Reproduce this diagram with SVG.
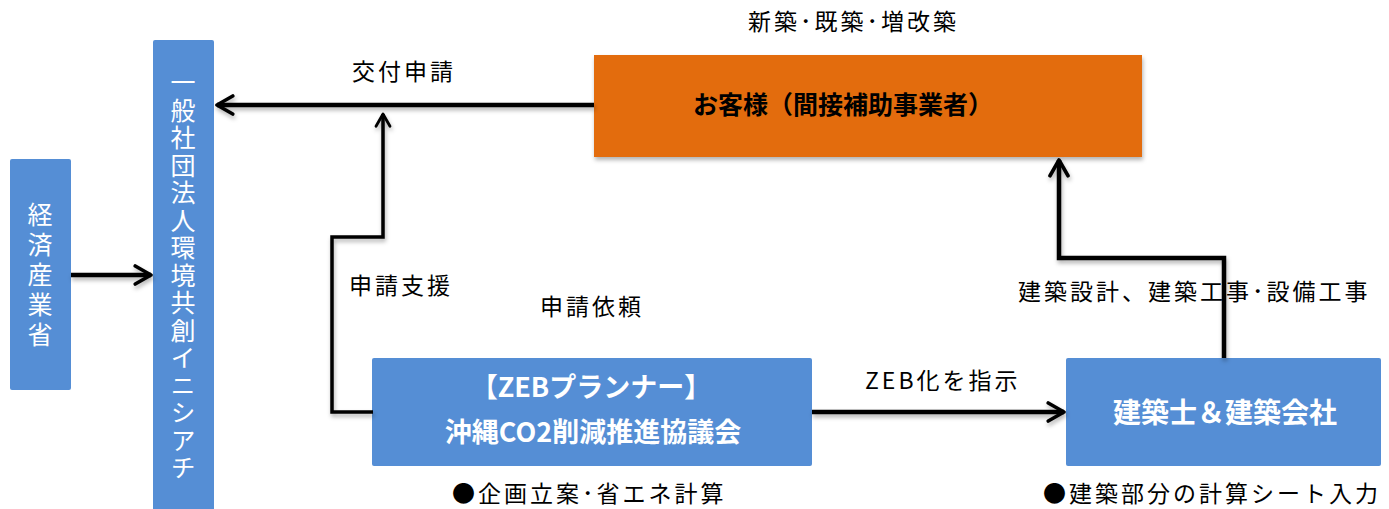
<svg xmlns="http://www.w3.org/2000/svg" width="1389" height="509" viewBox="0 0 1389 509">
<style>
.box{fill:#558ED5;}
.org{fill:#E36C09;}
.lbl{font-family:"Noto Sans CJK JP","Noto Sans",sans-serif;font-size:23px;fill:#000;letter-spacing:3px;}
.wt{font-family:"Noto Sans CJK JP","Noto Sans",sans-serif;font-weight:bold;fill:#fff;}
.vt{font-family:"Noto Sans CJK JP","Noto Sans",sans-serif;font-size:25px;fill:#fff;writing-mode:vertical-rl;}
.ln{fill:none;stroke:#000;stroke-linejoin:miter;}
</style>
<defs>
<filter id="sh" x="-10%" y="-10%" width="130%" height="140%">
<feDropShadow dx="1" dy="3" stdDeviation="2" flood-color="#000" flood-opacity="0.3"/>
</filter>
<marker id="ah" viewBox="0 0 10 10" refX="9" refY="5" markerWidth="5" markerHeight="5" markerUnits="strokeWidth" orient="auto">
<path d="M2,1 L9,5 L2,9" fill="none" stroke="#000" stroke-width="1.6" stroke-linecap="round" stroke-linejoin="round"/>
</marker>
</defs>

<g id="meti">
<rect class="box" x="10" y="159" width="61" height="231" rx="2"/>
<text class="vt" x="40" y="202" letter-spacing="5">経済産業省</text>
</g>

<g id="sii">
<rect class="box" x="153" y="40" width="61" height="475" rx="2"/>
<text class="vt" x="183" y="70" letter-spacing="2.5">一般社団法人環境共創イニシアチ</text>
</g>

<g id="customer">
<rect class="org" x="594" y="55" width="548" height="102" filter="url(#sh)"/>
<text x="843" y="114" text-anchor="middle" font-family="'Noto Sans CJK JP','Noto Sans',sans-serif" font-weight="bold" font-size="25" fill="#000">お客様（間接補助事業者）</text>
</g>

<g id="zeb">
<rect class="box" x="372" y="358" width="440" height="108" rx="2"/>
<text class="wt" font-size="27" text-anchor="middle"><tspan x="591" y="397">【ZEBプランナー】</tspan><tspan x="593" y="442">沖縄CO2削減推進協議会</tspan></text>
</g>

<g id="architect">
<rect class="box" x="1066" y="358" width="315" height="108" rx="2"/>
<text class="wt" font-size="28" text-anchor="middle" x="1225" y="423">建築士＆建築会社</text>
</g>

<g id="connectors" filter="url(#sh)">
<line class="ln" x1="71" y1="275" x2="151" y2="275" stroke-width="4.5" marker-end="url(#ah)"/>
<line class="ln" x1="594" y1="105" x2="217" y2="105" stroke-width="4.5" marker-end="url(#ah)"/>
<polyline class="ln" points="373,412 332,412 332,237 383,237 383,114" stroke-width="3.5" marker-end="url(#ah)"/>
<line class="ln" x1="812" y1="412" x2="1064" y2="412" stroke-width="4.5" marker-end="url(#ah)"/>
<polyline class="ln" points="1224,358 1224,258 1059,258 1059,160" stroke-width="4.5" marker-end="url(#ah)"/>
</g>

<g id="labels">
<text class="lbl" x="748" y="30">新築･既築･増改築</text>
<text class="lbl" x="352" y="80">交付申請</text>
<text class="lbl" x="349" y="294">申請支援</text>
<text class="lbl" x="540" y="315">申請依頼</text>
<text class="lbl" x="865" y="389">ZEB化を指示</text>
<text class="lbl" x="1018" y="300">建築設計、建築工事･設備工事</text>
<text class="lbl" x="452" y="502">●企画立案･省エネ計算</text>
<text class="lbl" x="1043" y="502" letter-spacing="2.2">●建築部分の計算シート入力</text>
</g>
</svg>
